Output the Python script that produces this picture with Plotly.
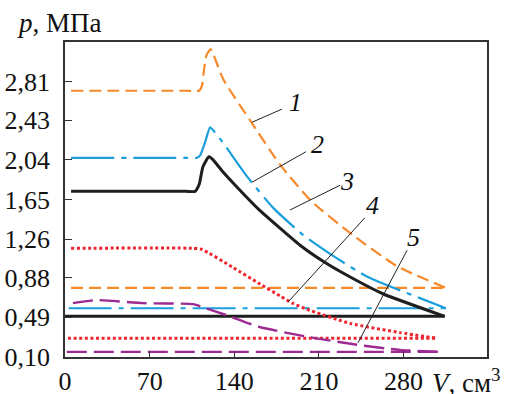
import plotly.graph_objects as go

# ---- data ----
x1 = [5, 100, 111, 113.5, 115, 117, 120.5, 123, 131, 153, 178, 204, 238, 275, 315]
y1 = [2.72, 2.72, 2.72, 2.78, 2.93, 3.07, 3.13, 3.07, 2.83, 2.43, 1.99, 1.63, 1.30, 0.99, 0.78]
x1_low = [5, 315]
y1_low = [0.78, 0.78]

x2 = [5, 100, 109, 112, 116, 120, 124, 130, 151, 172, 197, 225, 250, 315]
y2 = [2.06, 2.06, 2.06, 2.09, 2.22, 2.36, 2.31, 2.22, 1.87, 1.57, 1.30, 1.07, 0.89, 0.58]
x2_low = [3, 315]
y2_low = [0.58, 0.58]

x3 = [5, 100, 107.5, 111, 114, 119, 122.5, 130, 140, 160, 194.4, 216.4, 238.5, 263.3, 314]
y3 = [1.73, 1.73, 1.73, 1.80, 1.97, 2.07, 2.04, 1.93, 1.80, 1.555, 1.20, 1.02, 0.87, 0.72, 0.50]
x3_low = [0, 314]
y3_low = [0.50, 0.50]

x4 = [5, 105, 113, 139, 161, 178, 188, 200, 236, 277, 307]
y4 = [1.17, 1.17, 1.16, 0.98, 0.82, 0.70, 0.63, 0.57, 0.43, 0.34, 0.285]
x4_low = [2.5, 307]
y4_low = [0.285, 0.285]

x5 = [6.6, 26.5, 64.5, 106, 114, 134, 161, 200, 241.5, 277, 312.7]
y5 = [0.63, 0.66, 0.63, 0.62, 0.59, 0.51, 0.395, 0.30, 0.22, 0.17, 0.15]
x5_low = [1.5, 312.7]
y5_low = [0.15, 0.15]

x_ticks = [0, 70, 140, 210, 280]
y_ticks = [0.10, 0.49, 0.88, 1.26, 1.65, 2.04, 2.43, 2.81]
y_tick_text = ["0,10", "0,49", "0,88", "1,26", "1,65", "2,04", "2,43", "2,81"]

labels = ["1", "2", "3", "4", "5"]
leader_start = [(154.7, 2.41), (154.7, 1.82), (186.1, 1.547), (184.4, 0.64), (242.3, 0.24)]
leader_end = [(179.5, 2.54), (199.3, 2.12), (227.5, 1.79), (248.0, 1.47), (282.9, 1.15)]
label_pos = [(190.5, 2.60), (208.5, 2.19), (233.5, 1.83), (254.5, 1.59), (288.0, 1.28)]

# ---- styles ----
ORANGE = "#F68A2B"
BLUE = "#1A9FDC"
BLACK = "#1E1E1E"
RED = "#EF2630"
PURPLE = "#9C2A90"

styles = [
    dict(color=ORANGE, width=2.2, dash="12px,6px"),
    dict(color=BLUE, width=2.2, dash="43px,7px,5px,7px"),
    dict(color=BLACK, width=3, dash="solid"),
    dict(color=RED, width=3, dash="3px,2.6px"),
    dict(color=PURPLE, width=2.4, dash="20px,7px"),
]

fig = go.Figure()
series = [(x1, y1, x1_low, y1_low), (x2, y2, x2_low, y2_low), (x3, y3, x3_low, y3_low),
          (x4, y4, x4_low, y4_low), (x5, y5, x5_low, y5_low)]
for (xu, yu, xl, yl), st in zip(series, styles):
    fig.add_trace(go.Scatter(x=xu, y=yu, mode="lines", line=dict(shape="spline", smoothing=0.5, **st),
                             showlegend=False, hoverinfo="skip"))
    fig.add_trace(go.Scatter(x=xl, y=yl, mode="lines", line=st, showlegend=False, hoverinfo="skip"))

FONT = "Liberation Serif"

for lab, s, e, p in zip(labels, leader_start, leader_end, label_pos):
    fig.add_shape(type="line", xref="x", yref="y", x0=s[0], y0=s[1], x1=e[0], y1=e[1],
                  line=dict(color="#222", width=1))
    fig.add_annotation(x=p[0], y=p[1], xref="x", yref="y", text=f"<i>{lab}</i>", showarrow=False,
                       font=dict(family=FONT, size=26, color="#111"))

fig.add_annotation(x=-0.118, y=1.060, xref="paper", yref="paper", text="<i>p</i>, МПа", showarrow=False,
                   xanchor="left", yanchor="middle", font=dict(family=FONT, size=27, color="#111"))
fig.add_annotation(x=1.038, y=-0.076, xref="paper", yref="paper", text="<i>V</i>, см<sup>3</sup>",
                   showarrow=False, xanchor="right", yanchor="middle",
                   font=dict(family=FONT, size=27, color="#111"))

fig.update_layout(
    width=506, height=394,
    margin=dict(l=65, r=19, t=42, b=37, autoexpand=False),
    paper_bgcolor="white", plot_bgcolor="white",
    font=dict(family=FONT, size=26, color="#111"),
    xaxis=dict(range=[0, 349], tickvals=x_ticks, ticks="inside", ticklen=6, tickcolor="#333",
               showline=True, mirror=True, linecolor="#333", linewidth=1.5, showgrid=False,
               zeroline=False, automargin=False, tickfont=dict(family=FONT, size=26, color="#111")),
    yaxis=dict(range=[0.10, 3.20], tickvals=y_ticks, ticktext=y_tick_text, ticks="inside", ticklen=7,
               tickcolor="#333", showline=True, mirror=True, linecolor="#333", linewidth=1.5,
               showgrid=False, zeroline=False, ticklabelstandoff=8, automargin=False,
               tickfont=dict(family=FONT, size=26, color="#111")),
)

fig.write_html("out.html", config={"displayModeBar": False},
               post_script="document.body.style.margin='0';")
